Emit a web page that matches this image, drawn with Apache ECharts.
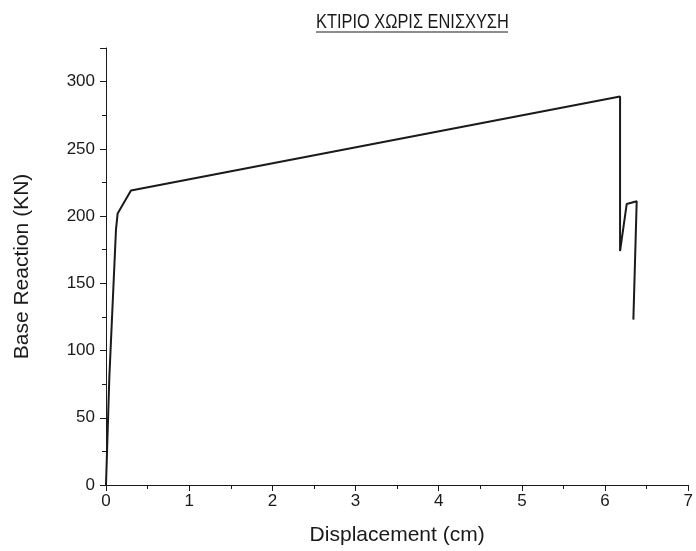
<!DOCTYPE html>
<html>
<head>
<meta charset="utf-8">
<script src="https://cdn.jsdelivr.net/npm/echarts@6/dist/echarts.min.js"></script>
<style>
  html, body { margin: 0; padding: 0; background: #fff; }
  #chart { width: 696px; height: 551px; }
</style>
</head>
<body>
<div id="chart"></div>
<script>
// Pushover curve: displacement (cm) vs base reaction (KN)
const displacement = [0, 0.01, 0.04, 0.12, 0.14, 0.30, 6.18, 6.18, 6.26, 6.38, 6.34];
const baseReaction = [0, 20, 80, 190, 202, 219, 289, 174, 209, 211, 123];

const xTicks = { min: 0, max: 7, interval: 1 };
const yTicks = { min: 0, max: 325, interval: 50 };

const titleText = 'ΚΤΙΡΙΟ ΧΩΡΙΣ ΕΝΙΣΧΥΣΗ';
const xName = 'Displacement (cm)';
const yName = 'Base Reaction (KN)';

const points = displacement.map((d, i) => [d, baseReaction[i]]);

const font = '"Liberation Sans", Arial, sans-serif';
const ink = '#1a1a1a';

const chart = echarts.init(document.getElementById('chart'), null, { renderer: 'canvas' });

chart.setOption({
  animation: false,
  backgroundColor: '#fff',
  // Title drawn as a horizontally condensed text with an underline
  graphic: [{
    type: 'text',
    x: 316,
    y: 12,
    scaleX: 0.78,
    style: {
      text: titleText,
      fontFamily: font,
      fontSize: 21,
      fill: ink,
      textVerticalAlign: 'top'
    }
  }, {
    type: 'line',
    shape: { x1: 316, y1: 32, x2: 508, y2: 32 },
    style: { stroke: ink, lineWidth: 1 }
  }],
  grid: { left: 106, right: 6, top: 48, bottom: 66, containLabel: false },
  xAxis: {
    type: 'value',
    min: xTicks.min, max: xTicks.max, interval: xTicks.interval,
    name: xName,
    nameLocation: 'middle',
    nameGap: 40,
    nameTextStyle: { fontFamily: font, fontSize: 21, color: ink },
    axisLine: { show: true, onZero: false, lineStyle: { color: ink, width: 1 } },
    axisTick: { show: true, inside: false, length: 6, lineStyle: { color: ink } },
    minorTick: { show: true, splitNumber: 2, length: 4, lineStyle: { color: ink } },
    axisLabel: { fontFamily: font, fontSize: 17, color: ink, margin: 8 },
    splitLine: { show: false }
  },
  yAxis: {
    type: 'value',
    min: yTicks.min, max: yTicks.max, interval: yTicks.interval,
    name: yName,
    nameLocation: 'middle',
    nameGap: 73,
    nameRotate: 90,
    nameTextStyle: { fontFamily: font, fontSize: 21, color: ink },
    axisLine: { show: true, onZero: false, lineStyle: { color: ink, width: 1 } },
    axisTick: { show: true, inside: false, length: 6, lineStyle: { color: ink } },
    minorTick: { show: true, splitNumber: 2, length: 4, lineStyle: { color: ink } },
    axisLabel: { fontFamily: font, fontSize: 17, color: ink, margin: 11, showMaxLabel: false },
    splitLine: { show: false }
  },
  series: [{
    type: 'line',
    data: points,
    showSymbol: false,
    symbol: 'none',
    smooth: false,
    lineStyle: { color: ink, width: 2 },
    clip: false
  }]
});
</script>
</body>
</html>
